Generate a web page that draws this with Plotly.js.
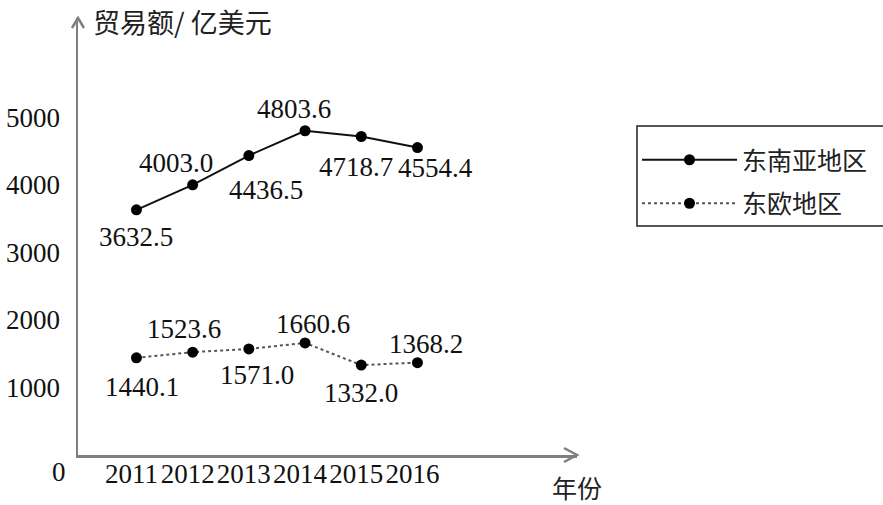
<!DOCTYPE html>
<html>
<head>
<meta charset="utf-8">
<script src="https://cdn.plot.ly/plotly-3.0.1.min.js"></script>
<style>html,body{margin:0;padding:0;background:#fff;}#chart{width:883px;height:505px;}</style>
</head>
<body>
<div id="chart"></div>
<script>
// ---- data ----
const years = [2011, 2012, 2013, 2014, 2015, 2016];
const seAsia = [3632.5, 4003.0, 4436.5, 4803.6, 4718.7, 4554.4];
const eEurope = [1440.1, 1523.6, 1571.0, 1660.6, 1332.0, 1368.2];
const seriesNames = ['东南亚地区', '东欧地区'];
const yTicks = [1000, 2000, 3000, 4000, 5000];
const xTickLabels = ['2011', '2012', '2013', '2014', '2015', '2016'];
const yTitle = '贸易额/ 亿美元';
const xTitle = '年份';

// ---- style ----
const W = 883, H = 505;
const M = {l: 78, r: 306, t: 18, b: 50};
const PW = W - M.l - M.r, PH = H - M.t - M.b;
const serif = '"Liberation Serif", serif';
const cjk = '"Noto Sans CJK SC", sans-serif';
const axisColor = '#7f7f7f';
const px2x = p => (p - M.l) / PW;          // page px -> paper x
const py2y = p => (H - M.b - p) / PH;      // page px -> paper y

// label offsets (px) for each point: [dx, dy] (dy positive = down)
const seOff = [[0, 27], [-17, -22], [17, 34], [-11, -22], [-5, 31], [18, 20]];
const eeOff = [[6, 29], [-9, -23], [8, 26], [8, -19], [0, 28], [9, -19]];

const traces = [
  {x: years, y: seAsia, name: seriesNames[0], type: 'scatter', mode: 'lines+markers', legendgroup: 'a',
   line: {color: '#111', width: 2}, marker: {color: '#000', size: 11}},
  {x: years, y: eEurope, name: seriesNames[1], type: 'scatter', mode: 'lines+markers', legendgroup: 'b',
   line: {color: '#555', width: 2, dash: 'dot'}, marker: {color: '#000', size: 11}}
];

const annotations = [];
function addLabels(vals, offs) {
  vals.forEach((v, i) => {
    annotations.push({x: years[i], y: v, xref: 'x', yref: 'y', text: v.toFixed(1),
      showarrow: false, xshift: offs[i][0], yshift: -offs[i][1],
      font: {family: serif, size: 27, color: '#111'}});
  });
}
addLabels(seAsia, seOff);
addLabels(eEurope, eeOff);
annotations.push({xref: 'paper', yref: 'paper', x: px2x(91), y: py2y(22), xanchor: 'left', yanchor: 'middle',
  text: yTitle, showarrow: false, font: {family: cjk, size: 27, color: '#222'}});
annotations.push({xref: 'paper', yref: 'paper', x: px2x(577), y: py2y(487), xanchor: 'center', yanchor: 'middle',
  text: xTitle, showarrow: false, font: {family: cjk, size: 25, color: '#222'}});
annotations.push({xref: 'paper', yref: 'y', x: px2x(59), y: 0, xanchor: 'center', yanchor: 'middle', yshift: -17,
  text: '0', showarrow: false, font: {family: serif, size: 27, color: '#111'}});

const shapes = [
  // y-axis arrow head
  {type: 'path', xref: 'paper', yref: 'paper',
   path: `M ${-6/PW} ${1-10/PH} L 0 1 L ${6/PW} ${1-10/PH}`, line: {color: axisColor, width: 2.5}},
  // x-axis arrow head
  {type: 'path', xref: 'paper', yref: 'paper',
   path: `M ${1-13/PW} ${7/PH} L 1 0 L ${1-13/PW} ${-7/PH}`, line: {color: axisColor, width: 2.5}},
  // legend frame
  {type: 'rect', xref: 'paper', yref: 'paper', x0: px2x(637), x1: px2x(895), y0: py2y(226), y1: py2y(126),
   line: {color: '#222', width: 1.5}, fillcolor: 'rgba(0,0,0,0)'}
];

const layout = {
  width: W, height: H,
  margin: {l: M.l, r: M.r, t: M.t, b: M.b, autoexpand: false},
  paper_bgcolor: '#fff', plot_bgcolor: '#fff',
  showlegend: true,
  legend: {x: px2x(637), y: py2y(137), xanchor: 'left', yanchor: 'top',
    borderwidth: 0, bgcolor: 'rgba(0,0,0,0)', itemwidth: 95, tracegroupgap: 8,
    font: {family: cjk, size: 25, color: '#222'}},
  xaxis: {range: [2009.96, 2009.96 + PW / 56.2], tickvals: years, ticktext: xTickLabels,
    showgrid: false, zeroline: false, showline: true, linecolor: axisColor, linewidth: 2.5,
    ticks: '', tickangle: 0, ticklabelshift: -5, ticklabelstandoff: -7,
    tickfont: {family: serif, size: 27, color: '#111'}},
  yaxis: {range: [0, PH / 0.0675], tickvals: yTicks, showgrid: false, zeroline: false,
    showline: true, linecolor: axisColor, linewidth: 2.5, ticks: '', ticklabelstandoff: 10,
    tickfont: {family: serif, size: 27, color: '#111'}},
  annotations: annotations,
  shapes: shapes
};

Plotly.newPlot('chart', traces, layout, {displayModeBar: false, staticPlot: true});
</script>
</body>
</html>
